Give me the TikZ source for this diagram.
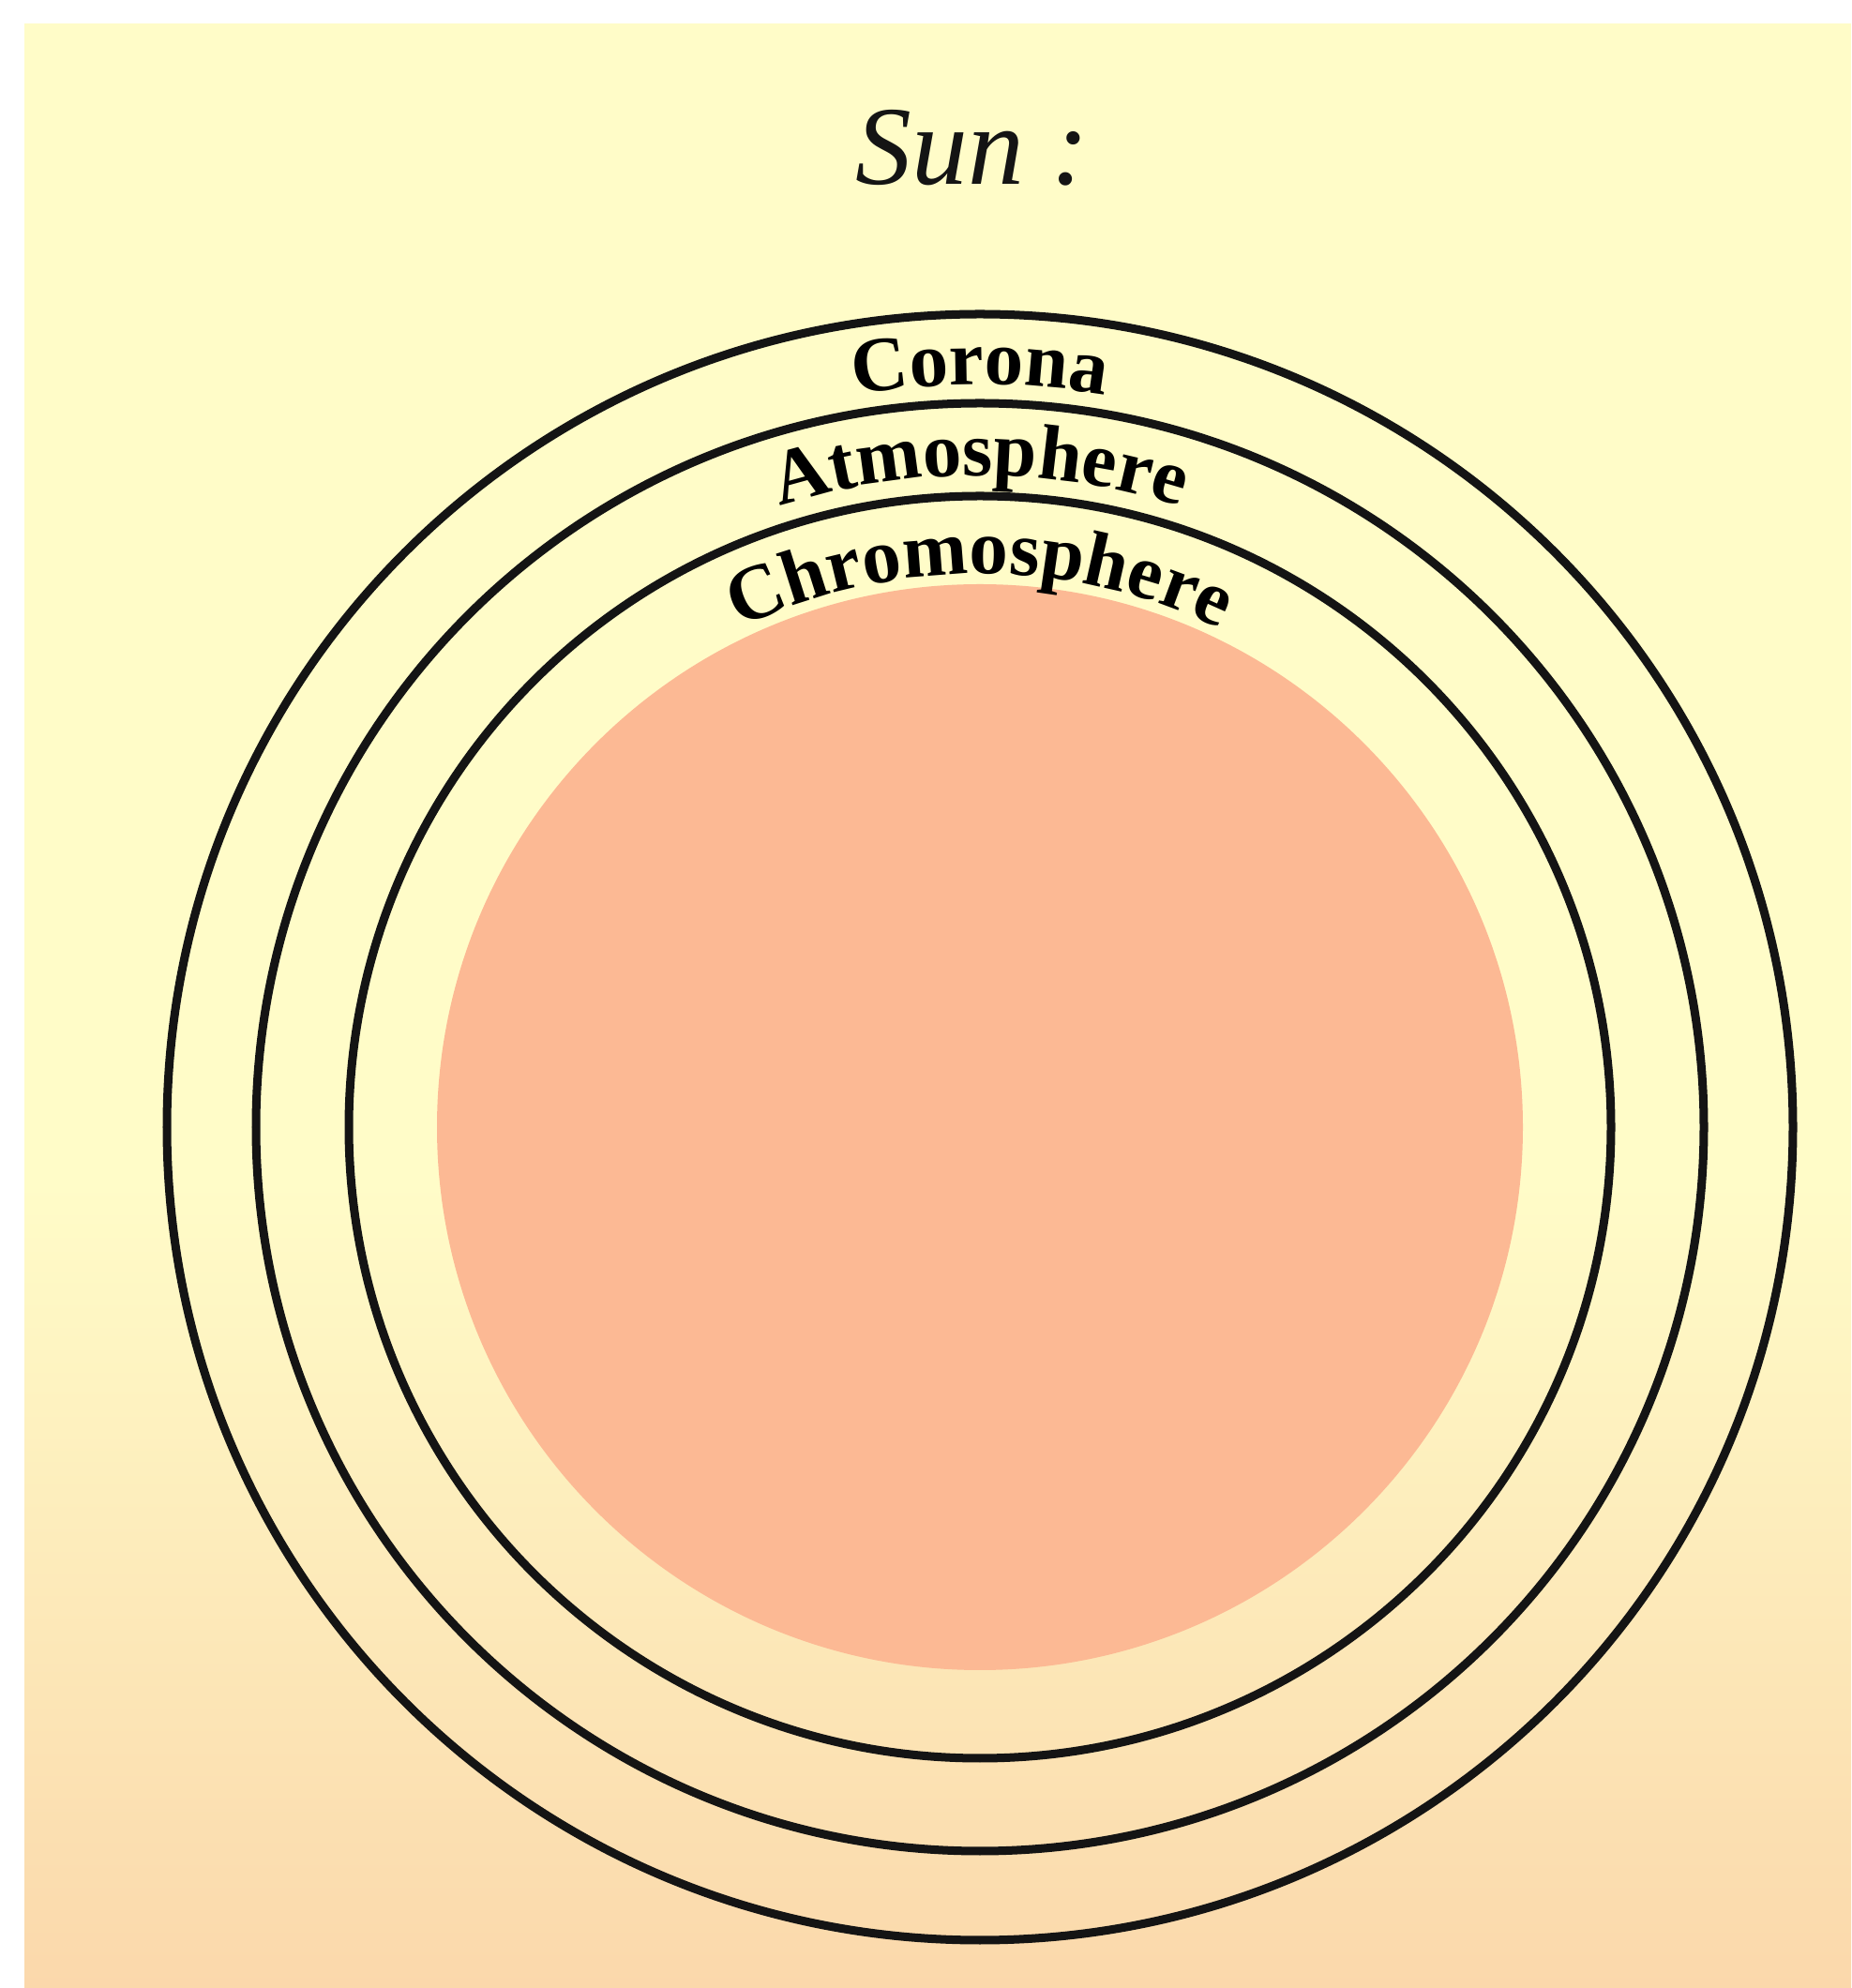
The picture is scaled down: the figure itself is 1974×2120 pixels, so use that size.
\documentclass[tikz,border=0pt]{standalone}
\usepackage{fontspec}
\usetikzlibrary{decorations.text}
\newfontfamily\labelfont{Liberation Serif}
\definecolor{paper}{HTML}{FFFCC8}
\definecolor{photo}{HTML}{FCB994}
\definecolor{stain}{HTML}{FAD4A8}
\definecolor{ink}{HTML}{141414}
\begin{document}
\begin{tikzpicture}[
  x=0.01cm, y=0.01cm,
  ring/.style={draw=ink, line width=0.09cm},
  layerlabel/.style={decorate, decoration={text along path, text align=center,
    text={|\labelfont\bfseries\fontsize{23.6}{28}\selectfont|#1}}}
]
\useasboundingbox (0,0) rectangle (1974,2120);

% paper and its yellowed lower part
\fill[paper] (26,0) rectangle (1974,2095);
\shade[top color=paper, middle color=stain!35!paper, bottom color=stain!90!paper]
  (26,0) rectangle (1974,860);

\coordinate (c) at (1045,918);

% photosphere disk
\fill[photo] (c) circle[radius=579];

% shells
\draw[ring] (c) circle[radius=867];
\draw[ring] (c) circle[radius=772];
\draw[ring] (c) circle[radius=673];

% curved shell names
\path[layerlabel=Corona] (c) ++(180:792) arc[start angle=180, end angle=0, radius=792];
\path[layerlabel=Atmosphere] (c) ++(180:695) arc[start angle=180, end angle=0, radius=695];
\path[layerlabel=Chromosphere] (c) ++(180:590) arc[start angle=180, end angle=0, radius=590];

% heading
\node[font=\labelfont\itshape\fontsize{34}{40}\selectfont, anchor=base, text=ink, inner sep=0pt]
  (title) at (1037,1923) {Sun :};
\end{tikzpicture}
\end{document}
